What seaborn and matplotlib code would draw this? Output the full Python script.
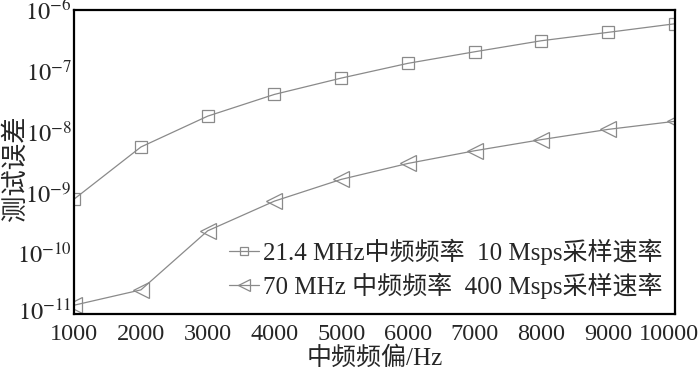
import matplotlib
matplotlib.use("Agg")
import matplotlib.pyplot as plt
import matplotlib.transforms as mtransforms
import seaborn as sns
import pandas as pd

# values
offsets = [1000, 2000, 3000, 4000, 5000, 6000, 7000, 8000, 9000, 10000]
err_21mhz = [7.8e-10, 5.6e-9, 1.8e-8, 4.1e-8, 7.6e-8, 1.33e-7, 2.06e-7, 3.13e-7, 4.3e-7, 5.95e-7]
err_70mhz = [1.4e-11, 2.5e-11, 2.34e-10, 7.2e-10, 1.64e-9, 3.0e-9, 4.85e-9, 7.4e-9, 1.09e-8, 1.48e-8]
labels = ["21.4 MHz中频频率  10 Msps采样速率", "70 MHz 中频频率  400 Msps采样速率"]
xticks = [1000, 2000, 3000, 4000, 5000, 6000, 7000, 8000, 9000, 10000]
yticks = [1e-11, 1e-10, 1e-9, 1e-8, 1e-7, 1e-6]
ytick_labels = [r'$10^{-11}$', r'$10^{-10}$', r'$10^{-9}$', r'$10^{-8}$', r'$10^{-7}$', r'$10^{-6}$']

sns.set_style("white")
plt.rcParams['font.family'] = ['Liberation Serif', 'Noto Sans CJK SC']
plt.rcParams['mathtext.fontset'] = 'stix'

df = pd.concat([
    pd.DataFrame({'offset': offsets, 'err': err_21mhz, 'series': labels[0]}),
    pd.DataFrame({'offset': offsets, 'err': err_70mhz, 'series': labels[1]}),
])

fig, ax = plt.subplots(figsize=(7, 3.73), dpi=100)
sns.lineplot(data=df, x='offset', y='err', style='series', markers=['s', '<'], dashes=False,
             color='#8a8a8a', linewidth=0.9, markerfacecolor='none', markeredgecolor='#8a8a8a',
             markeredgewidth=0.9, ax=ax)
for line, ms in zip(ax.lines, [8, 11]):
    line.set_markersize(ms)

ax.set_yscale('log')
ax.set_ylim(1e-11, 1e-6)
ax.set_xlim(1000, 10000)
ax.set_xticks(xticks)
ax.set_xticklabels([str(v) for v in xticks])
ax.set_yticks(yticks)
ax.set_yticklabels(ytick_labels)
ax.minorticks_off()
ax.tick_params(direction='in', length=4, width=1.2)
ax.tick_params(axis='x', pad=7, labelsize=17.5)
ax.tick_params(axis='y', pad=2, labelsize=17.5)
for s in ax.spines.values():
    s.set_linewidth(1.6)
    s.set_color('black')

# end labels nudged like in the reference
last = ax.get_xticklabels()[-1]
last.set_transform(last.get_transform() + mtransforms.ScaledTranslation(-0.06, 0, fig.dpi_scale_trans))
first_y = ax.get_yticklabels()[0]
first_y.set_transform(first_y.get_transform() + mtransforms.ScaledTranslation(0, 0.04, fig.dpi_scale_trans))

ax.set_xlabel('中频频偏/Hz', fontsize=18, labelpad=1)
ax.set_ylabel('测试误差', fontsize=19)
ax.yaxis.set_label_coords(-0.077, 0.48)

handles, lbls = ax.get_legend_handles_labels()
for h, ms in zip(handles, [6, 8]):
    h.set_markersize(ms)
ax.legend(handles, lbls, loc='lower right', frameon=False, fontsize=18, handlelength=1.2,
          handletextpad=0.15, labelspacing=0.3, borderaxespad=0.1, bbox_to_anchor=(1.0, 0.01))

plt.subplots_adjust(left=0.106, right=0.964, top=0.973, bottom=0.158)
fig.savefig('out.png', dpi=100)
